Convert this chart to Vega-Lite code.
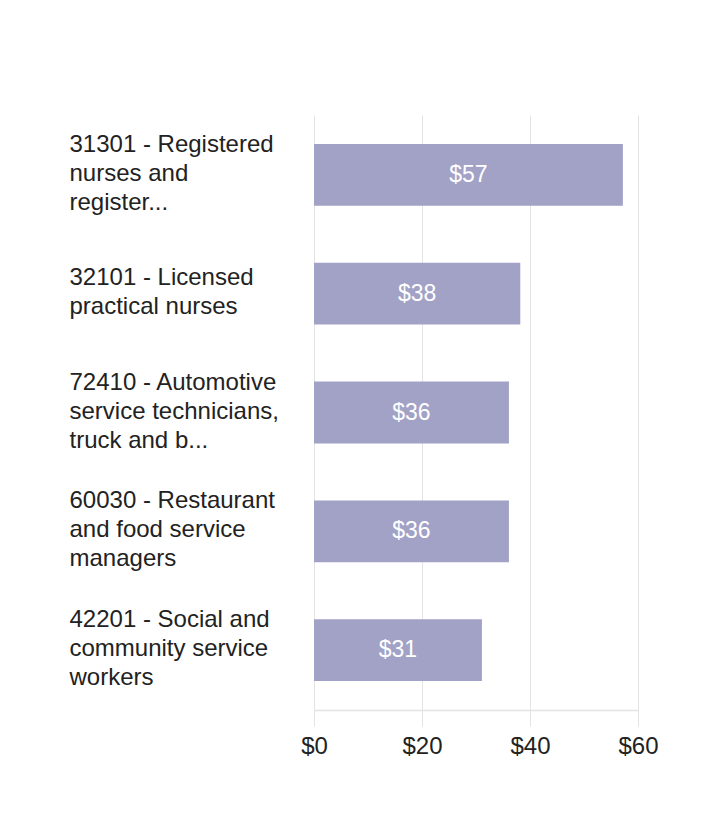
{
  "$schema": "https://vega.github.io/schema/vega-lite/v6.json",
  "autosize": {"type": "none"},
  "padding": {"left": 314, "top": 115, "right": 80, "bottom": 117},
  "width": 324,
  "height": 595,
  "background": "white",
  "config": {
    "view": {"stroke": null},
    "font": "Liberation Sans"
  },
  "data": {
    "values": [
      {"occupation": "31301 - Registered|nurses and|register...", "wage": 57.2},
      {"occupation": "32101 - Licensed|practical nurses", "wage": 38.2},
      {"occupation": "72410 - Automotive|service technicians,|truck and b...", "wage": 36.1},
      {"occupation": "60030 - Restaurant|and food service|managers", "wage": 36.1},
      {"occupation": "42201 - Social and|community service|workers", "wage": 31.1}
    ]
  },
  "encoding": {
    "y": {
      "field": "occupation",
      "type": "nominal",
      "sort": null,
      "scale": {"paddingInner": 0.48, "paddingOuter": 0.245},
      "axis": {
        "title": null,
        "domain": false,
        "ticks": false,
        "labelAlign": "left",
        "labelBaseline": "middle",
        "labelPadding": 245,
        "labelFontSize": 24,
        "labelColor": "#222222",
        "labelLineHeight": 29,
        "labelLimit": 0,
        "labelOffset": {"expr": "-(length(split(datum.label, '|')) - 1) * 14.5 - 1"},
        "labelExpr": "split(datum.label, '|')"
      }
    }
  },
  "layer": [
    {
      "mark": {"type": "bar", "color": "#a2a2c7"},
      "encoding": {
        "x": {
          "field": "wage",
          "type": "quantitative",
          "scale": {"domain": [0, 60], "nice": false},
          "axis": {
            "title": null,
            "values": [0, 20, 40, 60],
            "format": "$.0f",
            "grid": true,
            "gridColor": "#e3e3e3",
            "domainColor": "#e3e3e3",
            "domainWidth": 1.5,
            "tickColor": "#e3e3e3",
            "tickSize": 16,
            "labelFlush": false,
            "labelOverlap": false,
            "labelPadding": 8,
            "labelFontSize": 24,
            "labelColor": "#222222"
          }
        }
      }
    },
    {
      "transform": [{"calculate": "datum.wage / 2", "as": "mid"}],
      "mark": {"type": "text", "color": "white", "fontSize": 23, "baseline": "middle", "align": "center"},
      "encoding": {
        "x": {"field": "mid", "type": "quantitative"},
        "text": {"field": "wage", "type": "quantitative", "format": "$.0f"}
      }
    }
  ]
}
